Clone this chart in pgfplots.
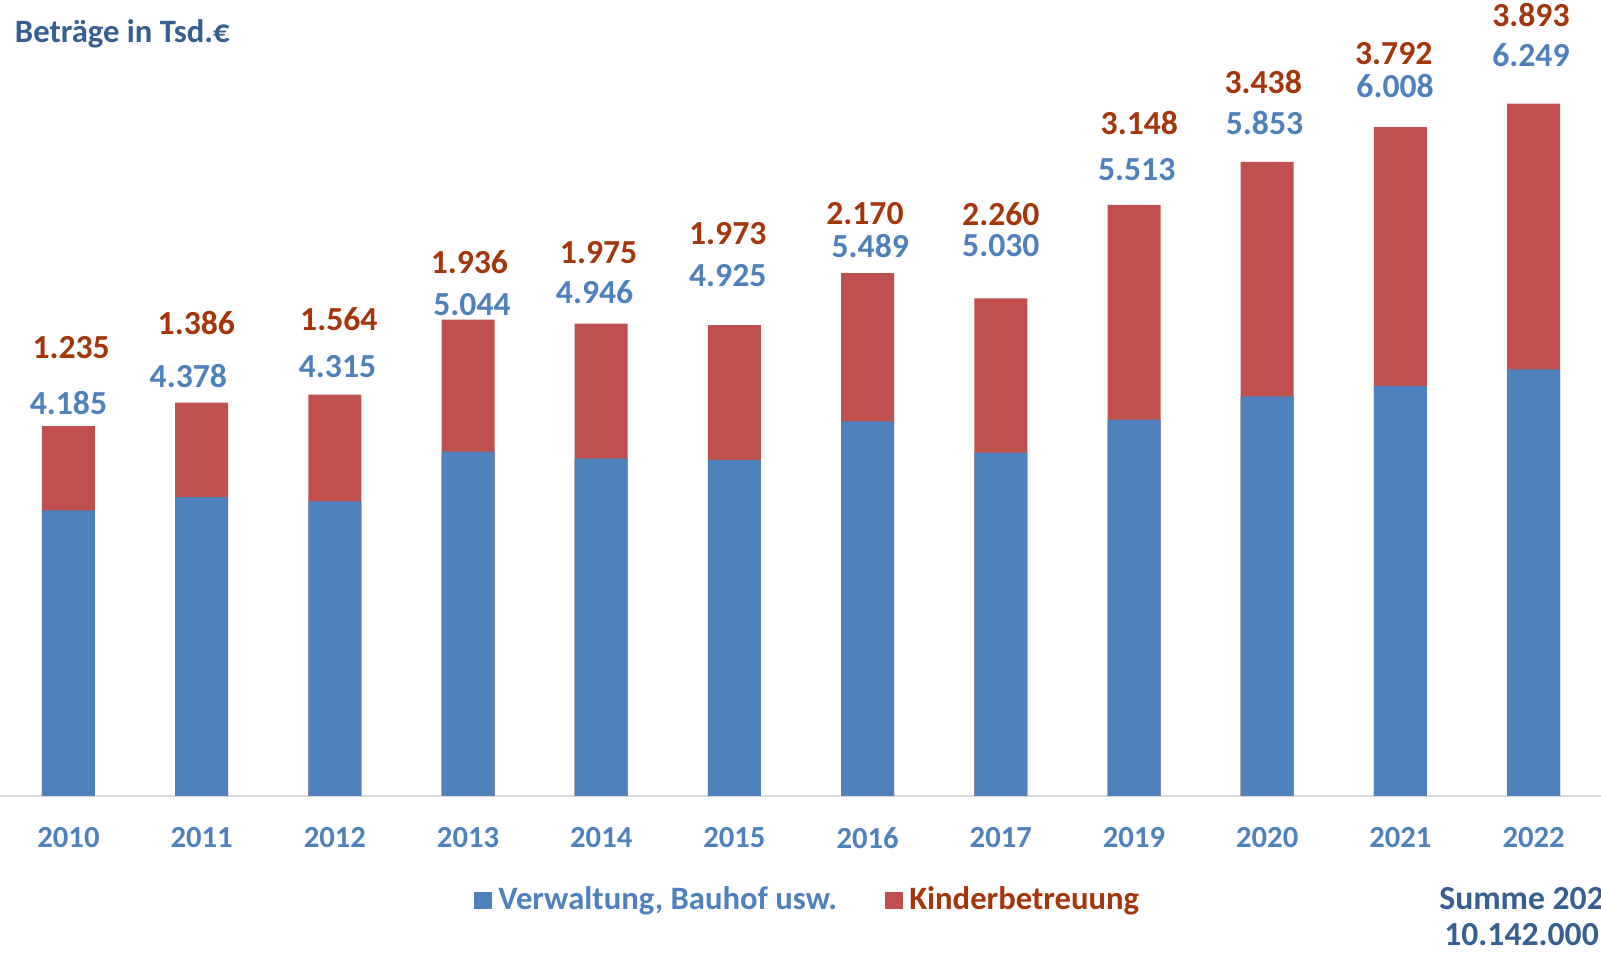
\documentclass[border=0pt]{standalone}
\usepackage{pgfplots}
\usepackage{pgfplotstable}
\pgfplotsset{compat=1.18}
\usepackage{fontspec}
\setmainfont{Carlito}

\definecolor{barblue}{RGB}{79,129,189}
\definecolor{barred}{RGB}{192,80,77}
\definecolor{txtblue}{RGB}{79,129,189}
\definecolor{txtred}{RGB}{163,54,10}
\definecolor{darkblue}{RGB}{55,96,146}
\definecolor{axisgrey}{RGB}{217,217,217}

% values in Tsd. EUR
\pgfplotstableread{
x  blue red
0  4185 1235
1  4378 1386
2  4315 1564
3  5044 1936
4  4946 1975
5  4925 1973
6  5489 2170
7  5030 2260
8  5513 3148
9  5853 3438
10 6008 3792
11 6249 3893
}\bars

% label positions (as placed by hand in the original)
\pgfplotstableread{
bx    by    bl    rx    ry    rl
0.00  5760  4.185 0.02  6567  1.235
0.90  6149  4.378 0.96  6926  1.386
2.02  6298  4.315 2.03  6986  1.564
3.03  7196  5.044 3.01  7824  1.936
3.95  7375  4.946 3.98  7959  1.975
4.95  7630  4.925 4.95  8243  1.973
6.02  8063  5.489 5.98  8527  2.170
7.00  8063  5.030 7.00  8527  2.260
8.02  9170  5.513 8.04  9859  3.148
8.98  9859  5.853 8.97  10457 3.438
9.96  10397 6.008 9.95  10876 3.792
10.98 10846 6.249 10.98 11444 3.893
}\labels

\begin{document}
\begin{tikzpicture}
\useasboundingbox (0,-47.7pt) rectangle (480.3pt,238.8pt);
\begin{axis}[
    at={(0,0)}, anchor=south west,
    scale only axis,
    width=480.3pt, height=238.8pt,
    xmin=-0.514, xmax=11.506,
    ymin=0, ymax=11661,
    clip=false,
    axis x line*=bottom,
    axis y line=none,
    x axis line style={draw=axisgrey, line width=0.6pt},
    xtick={0,...,11},
    xticklabels={2010,2011,2012,2013,2014,2015,2016,2017,2019,2020,2021,2022},
    xtick style={draw=none},
    xticklabel style={anchor=center, yshift=-12.6pt, text=txtblue,
        font=\fontsize{9.2}{11}\selectfont\bfseries},
    legend style={at={(0.506,-0.131)}, anchor=center, draw=none, fill=none,
        legend columns=2, font=\fontsize{9.8}{12}\selectfont\bfseries,
        /tikz/every even column/.append style={column sep=12.5pt},
        inner sep=0pt},
    legend image code/.code={\fill[#1] (0pt,-2.6pt) rectangle (5.2pt,2.6pt);},
    legend cell align=left,
]
\addplot[ybar, bar width=15.9pt, bar shift=0pt, fill=barred, draw=none, forget plot]
    table[x=x, y expr=\thisrow{blue}+\thisrow{red}] {\bars};
\addplot[ybar, bar width=15.9pt, bar shift=0pt, fill=barblue, draw=none, forget plot]
    table[x=x, y=blue] {\bars};

\addplot[draw=none, mark=none, forget plot, nodes near coords,
    point meta=explicit symbolic,
    every node near coord/.append style={anchor=center, inner sep=0pt,
        text=txtblue, font=\fontsize{10.1}{12}\selectfont\bfseries}]
    table[x=bx, y=by, meta=bl] {\labels};
\addplot[draw=none, mark=none, forget plot, nodes near coords,
    point meta=explicit symbolic,
    every node near coord/.append style={anchor=center, inner sep=0pt,
        text=txtred, font=\fontsize{10.1}{12}\selectfont\bfseries}]
    table[x=rx, y=ry, meta=rl] {\labels};

\addlegendimage{fill=barblue, draw=none}
\addlegendentry{\textcolor{txtblue}{Verwaltung, Bauhof usw.}}
\addlegendimage{fill=barred, draw=none}
\addlegendentry{\textcolor{txtred}{Kinderbetreuung}}
\end{axis}

\node[anchor=west, inner sep=0pt, text=darkblue, font=\fontsize{9.8}{12}\selectfont\bfseries]
    at (4.3pt,228.7pt) {Beträge in Tsd.€};
\node[anchor=west, inner sep=0pt, text=darkblue, font=\fontsize{10.1}{12}\selectfont\bfseries]
    at (431.6pt,-30.75pt) {Summe 2022};
\node[anchor=west, inner sep=0pt, text=darkblue, font=\fontsize{10.1}{12}\selectfont\bfseries]
    at (433.1pt,-41.7pt) {10.142.000 €};
\end{tikzpicture}
\end{document}
